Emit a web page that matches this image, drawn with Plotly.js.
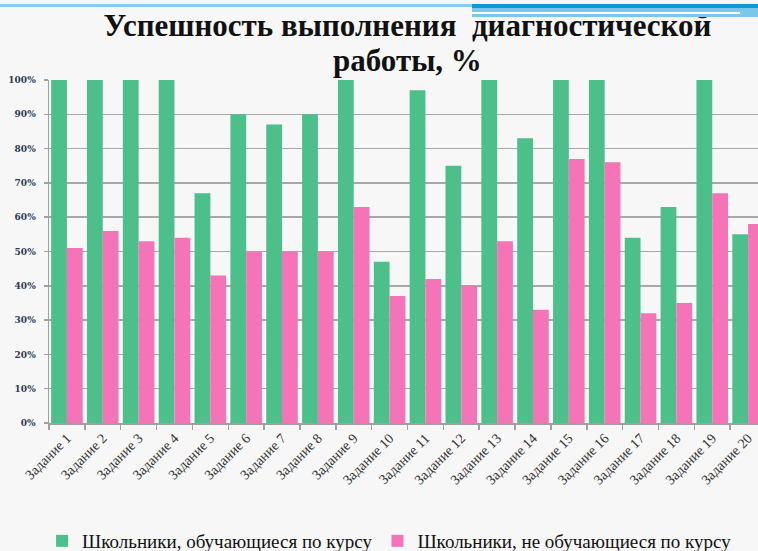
<!DOCTYPE html>
<html><head><meta charset="utf-8">
<script src="https://cdn.plot.ly/plotly-3.0.1.min.js"></script>
<style>
html,body{margin:0;padding:0;width:758px;height:551px;overflow:hidden;background:#F7F7F7;}
#chart{position:absolute;left:0;top:0;}
.deco{position:absolute;}
</style></head>
<body>
<div id="chart"></div>
<div class="deco" style="left:0;top:4px;width:472px;height:3px;background:#86CDEB;"></div>
<div class="deco" style="left:472px;top:4px;width:286px;height:4px;background:#0C9AD6;"></div>
<div class="deco" style="left:472px;top:8px;width:286px;height:9px;background:#7CC6EA;"></div>
<div class="deco" style="left:472px;top:12px;width:268px;height:2px;background:#FFFFFF;"></div>
<script>
const categories = ["Задание 1","Задание 2","Задание 3","Задание 4","Задание 5","Задание 6","Задание 7","Задание 8","Задание 9","Задание 10","Задание 11","Задание 12","Задание 13","Задание 14","Задание 15","Задание 16","Задание 17","Задание 18","Задание 19","Задание 20"];
const seriesNames = ["Школьники, обучающиеся по курсу","Школьники, не обучающиеся по курсу"];
const courseValues = [100,100,100,100,67,90,87,90,100,47,97,75,100,83,100,100,54,63,100,55];
const noCourseValues = [51,56,53,54,43,50,50,50,63,37,42,40,53,33,77,76,32,35,67,58];
const yTickVals = [0,10,20,30,40,50,60,70,80,90,100];
const yTickText = ["0%","10%","20%","30%","40%","50%","60%","70%","80%","90%","100%"];
const titleLine1 = "Успешность выполнения  диагностической";
const titleLine2 = "работы, %";

const traces = [
  {type:'bar', name:seriesNames[0], x:categories, y:courseValues, marker:{color:'#4DBF8A'}, hoverinfo:'x+y'},
  {type:'bar', name:seriesNames[1], x:categories, y:noCourseValues, marker:{color:'#F573B7'}, hoverinfo:'x+y'}
];

const layout = {
  width:766, height:551,
  margin:{l:49, r:0, t:80, b:128},
  paper_bgcolor:'rgba(0,0,0,0)', plot_bgcolor:'rgba(0,0,0,0)',
  barmode:'group', bargap:0.12, bargroupgap:0,
  title:{text:'<b>'+titleLine1+'</b>', x:0.5, xref:'paper', xanchor:'center', y:1-25/551, yref:'container', yanchor:'middle',
    font:{family:'Liberation Serif', size:31, color:'#111111'}},
  annotations:[{text:'<b>'+titleLine2+'</b>', xref:'paper', x:0.5, xanchor:'center', yref:'paper', y:1, yanchor:'bottom', yshift:0, showarrow:false,
    font:{family:'Liberation Serif', size:31, color:'#111111'}}],
  xaxis:{type:'category', tickangle:-45, tickson:'boundaries', ticks:'outside', ticklen:5, tickcolor:'#A0A0A0', tickwidth:1.5,
    showline:true, linecolor:'#A0A0A0', linewidth:1.5, showgrid:false,
    tickfont:{family:'Liberation Serif', size:14, color:'#333333'}, fixedrange:true},
  yaxis:{range:[0,100], tickvals:yTickVals, ticktext:yTickText, ticks:'outside', ticklen:4, tickcolor:'#A0A0A0', tickwidth:1.5,
    showline:true, linecolor:'#A0A0A0', linewidth:1.5, showgrid:true, gridcolor:'#A8A8A8', gridwidth:1.5, zeroline:false,
    ticklabelstandoff:6, tickfont:{family:'DejaVu Serif', size:9, color:'#2B3A55', weight:'bold'}, fixedrange:true},
  legend:{orientation:'h', x:0.475, xanchor:'center', xref:'paper', y:10/551, yref:'container', yanchor:'middle',
    font:{family:'Liberation Serif', size:19, color:'#111111'}, itemwidth:30, bgcolor:'rgba(0,0,0,0)'},
  showlegend:true
};
Plotly.newPlot('chart', traces, layout, {displayModeBar:false, staticPlot:true});
</script>
</body></html>
